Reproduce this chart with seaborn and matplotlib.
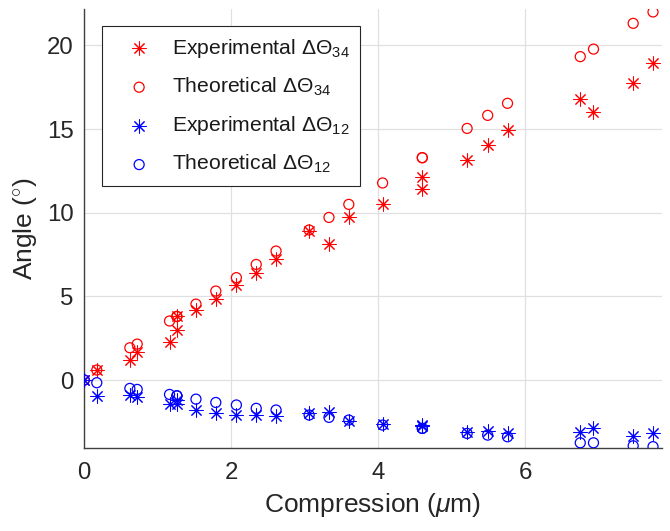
import matplotlib
matplotlib.use("Agg")
import matplotlib.pyplot as plt
import seaborn as sns
import pandas as pd

# ---- data ----
compression = [0.00, 0.17, 0.62, 0.72, 1.16, 1.26, 1.26, 1.52, 1.79, 2.07, 2.34, 2.61, 3.06,
               3.33, 3.60, 4.06, 4.60, 4.60, 5.21, 5.49, 5.76, 6.75, 6.93, 7.47, 7.74]
exp_34 = [0.00, 0.60, 1.20, 1.65, 2.29, 3.00, 3.84, 4.18, 4.82, 5.68, 6.41, 7.21, 8.90,
          8.11, 9.76, 10.50, 11.40, 12.15, 13.13, 14.07, 14.94, 16.80, 16.04, 17.73, 18.93]
theo_34 = [0.00, 0.60, 1.93, 2.15, 3.53, 3.80, 3.80, 4.54, 5.32, 6.12, 6.91, 7.71, 8.97,
           9.72, 10.50, 11.78, 13.29, 13.29, 15.04, 15.82, 16.54, 19.33, 19.78, 21.32, 22.00]
exp_12 = [0.00, -0.96, -0.90, -1.00, -1.43, -1.20, -1.43, -1.79, -1.95, -2.09, -2.09, -2.15, -1.99,
          -1.89, -2.43, -2.63, -2.69, -2.75, -3.09, -3.05, -3.15, -3.13, -2.89, -3.33, -3.19]
theo_12 = [0.00, -0.16, -0.50, -0.56, -0.86, -0.94, -0.94, -1.14, -1.34, -1.49, -1.69, -1.79, -2.09,
           -2.23, -2.39, -2.69, -2.89, -2.89, -3.19, -3.29, -3.39, -3.75, -3.75, -3.93, -3.98]
labels = [r"Experimental $\Delta\Theta_{34}$", r"Theoretical $\Delta\Theta_{34}$",
          r"Experimental $\Delta\Theta_{12}$", r"Theoretical $\Delta\Theta_{12}$"]
x_ticks = [0, 2, 4, 6]
y_ticks = [0, 5, 10, 15, 20]

sns.set_theme(style="whitegrid")
plt.rcParams["font.family"] = ["Liberation Sans", "DejaVu Sans"]
plt.rcParams["mathtext.fontset"] = "custom"
plt.rcParams["mathtext.rm"] = "Liberation Sans"
plt.rcParams["mathtext.it"] = "Liberation Sans:italic"
plt.rcParams["mathtext.bf"] = "Liberation Sans:bold"

df = pd.DataFrame({"x": compression, "e34": exp_34, "t34": theo_34, "e12": exp_12, "t12": theo_12})

fig = plt.figure(figsize=(6.7, 5.31), dpi=100)
ax = fig.add_axes([0.1258, 0.1557, 0.862, 0.8265])

star = (8, 2, 0)
sns.scatterplot(data=df, x="x", y="e34", marker=star, s=90, color="#ff0000",
                linewidth=0.75, label=labels[0], ax=ax, zorder=3)
sns.scatterplot(data=df, x="x", y="t34", marker="o", s=52, facecolor="none",
                edgecolor="#ff0000", linewidth=0.9, label=labels[1], ax=ax, zorder=3)
sns.scatterplot(data=df, x="x", y="e12", marker=star, s=90, color="#0000ff",
                linewidth=0.75, label=labels[2], ax=ax, zorder=3)
sns.scatterplot(data=df, x="x", y="t12", marker="o", s=52, facecolor="none",
                edgecolor="#0000ff", linewidth=0.9, label=labels[3], ax=ax, zorder=3)

ax.set_xlim(0, 7.86)
ax.set_ylim(-4.08, 22.15)
ax.set_xticks(x_ticks)
ax.set_yticks(y_ticks)
ax.grid(True, color="#e0e0e0", linewidth=0.9)
ax.set_axisbelow(True)
for side in ["top", "right"]:
    ax.spines[side].set_visible(False)
for side in ["left", "bottom"]:
    ax.spines[side].set_color("#404040")
    ax.spines[side].set_linewidth(1.0)
ax.tick_params(axis="both", direction="in", length=5, width=0.8, color="#404040",
               labelsize=17.3, labelcolor="#262626")
ax.tick_params(axis="x", pad=10)
ax.tick_params(axis="y", pad=7.5)

ax.set_xlabel(r"Compression ($\mu$m)", fontsize=19, color="#262626", labelpad=5)
ax.set_ylabel(r"Angle ($^{\circ}$)", fontsize=19, color="#262626", labelpad=6)

leg = ax.legend(loc="upper left", bbox_to_anchor=(0.031, 0.962), borderaxespad=0,
                fontsize=15.2, frameon=True, fancybox=False, framealpha=1,
                edgecolor="#262626", borderpad=0.5, handlelength=2.5,
                handletextpad=0.3, labelspacing=0.76)
leg.get_frame().set_linewidth(0.8)
for t in leg.get_texts():
    t.set_color("#1a1a1a")

fig.savefig("out.png", dpi=100)
